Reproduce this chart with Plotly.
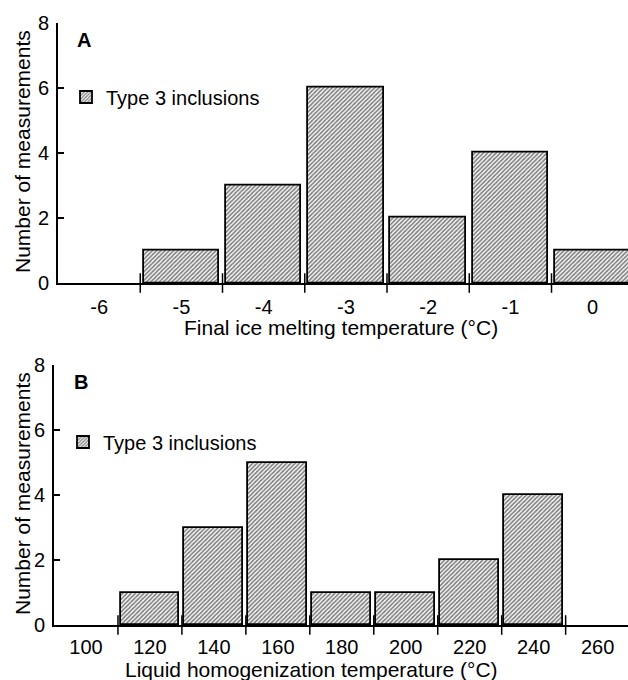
import plotly.graph_objects as go

# ---- Panel A data ----
a_bins = [-5, -4, -3, -2, -1, 0]
a_counts = [1, 3, 6, 2, 4, 1]
a_tickvals = [-6, -5, -4, -3, -2, -1, 0]
a_ticktext = ["-6", "-5", "-4", "-3", "-2", "-1", "0"]
a_edges = [-5.5, -4.5, -3.5, -2.5, -1.5, -0.5]

# ---- Panel B data ----
b_bins = [120, 140, 160, 180, 200, 220, 240]
b_counts = [1, 3, 5, 1, 1, 2, 4]
b_tickvals = [100, 120, 140, 160, 180, 200, 220, 240, 260]
b_ticktext = ["100", "120", "140", "160", "180", "200", "220", "240", "260"]
b_edges = [110, 130, 150, 170, 190, 210, 230, 250]

y_ticks = [0, 2, 4, 6, 8]
legend_name = "Type 3 inclusions"

FONT = "Liberation Sans, Arial, Helvetica, sans-serif"
W, H = 628, 680

pattern = dict(shape="/", size=3, solidity=0.55, fgcolor="black", bgcolor="white")

fig = go.Figure()

fig.add_trace(go.Bar(
    x=a_bins, y=a_counts, width=0.92, name=legend_name,
    marker=dict(color="white", pattern=pattern, line=dict(color="black", width=1.8)),
    xaxis="x", yaxis="y", legend="legend", showlegend=True, hoverinfo="skip",
))
fig.add_trace(go.Scatter(
    x=a_edges, y=[0] * len(a_edges), mode="markers", xaxis="x", yaxis="y",
    marker=dict(symbol="line-ns-open", size=14, color="black", line=dict(color="black", width=1.5)),
    cliponaxis=False, showlegend=False, hoverinfo="skip",
))

fig.add_trace(go.Bar(
    x=b_bins, y=b_counts, width=18.4, name=legend_name,
    marker=dict(color="white", pattern=pattern, line=dict(color="black", width=1.8)),
    xaxis="x2", yaxis="y2", legend="legend2", showlegend=True, hoverinfo="skip",
))
fig.add_trace(go.Scatter(
    x=b_edges, y=[0] * len(b_edges), mode="markers", xaxis="x2", yaxis="y2",
    marker=dict(symbol="line-ns-open", size=14, color="black", line=dict(color="black", width=1.5)),
    cliponaxis=False, showlegend=False, hoverinfo="skip",
))

xcommon = dict(showline=True, linecolor="black", linewidth=2, ticks="", showgrid=False,
               zeroline=False, tickfont=dict(size=20, color="black", family=FONT),
               ticklabelstandoff=5, fixedrange=True, automargin=False)
ycommon = dict(showline=True, linecolor="black", linewidth=2, ticks="inside", ticklen=6,
               tickwidth=1.5, tickcolor="black", showgrid=False, zeroline=False,
               range=[0, 8], tickvals=y_ticks, ticktext=[str(v) for v in y_ticks],
               tickfont=dict(size=20, color="black", family=FONT), ticklabelstandoff=3,
               fixedrange=True, automargin=False)

fig.update_layout(
    width=W, height=H,
    margin=dict(l=0, r=0, t=0, b=0, autoexpand=False),
    paper_bgcolor="white", plot_bgcolor="white",
    font=dict(family=FONT, size=20, color="black"),
    bargap=0,
    xaxis=dict(xcommon, domain=[58 / W, 1], range=[-6.5, 0.43], tickvals=a_tickvals,
               ticktext=a_ticktext, anchor="y"),
    yaxis=dict(ycommon, domain=[1 - 283 / H, 1 - 22.5 / H], anchor="x"),
    xaxis2=dict(xcommon, domain=[54 / W, 1], range=[90, 269.5], tickvals=b_tickvals,
                ticktext=b_ticktext, anchor="y2", ticklabelstandoff=3),
    yaxis2=dict(ycommon, domain=[1 - 625 / H, 1 - 365 / H], anchor="x2"),
    legend=dict(x=66 / W, y=1 - 97 / H, xanchor="left", yanchor="middle",
                bgcolor="rgba(0,0,0,0)", font=dict(size=20, family=FONT, color="black")),
    legend2=dict(x=63 / W, y=1 - 442 / H, xanchor="left", yanchor="middle",
                 bgcolor="rgba(0,0,0,0)", font=dict(size=20, family=FONT, color="black")),
    showlegend=True,
    annotations=[
        dict(text="<b>A</b>", x=75 / W, y=1 - 40 / H, xref="paper", yref="paper",
             xanchor="left", yanchor="middle", showarrow=False, font=dict(size=20, family=FONT)),
        dict(text="<b>B</b>", x=72 / W, y=1 - 382 / H, xref="paper", yref="paper",
             xanchor="left", yanchor="middle", showarrow=False, font=dict(size=20, family=FONT)),
        dict(text="Number of measurements", x=22 / W, y=1 - 152 / H, xref="paper", yref="paper",
             xanchor="center", yanchor="middle", textangle=-90, showarrow=False,
             font=dict(size=21, family=FONT)),
        dict(text="Number of measurements", x=22 / W, y=1 - 494 / H, xref="paper", yref="paper",
             xanchor="center", yanchor="middle", textangle=-90, showarrow=False,
             font=dict(size=21, family=FONT)),
        dict(text="Final ice melting temperature (°C)", x=341 / W, y=1 - 327 / H,
             xref="paper", yref="paper", xanchor="center", yanchor="middle", showarrow=False,
             font=dict(size=21, family=FONT)),
        dict(text="Liquid homogenization temperature (°C)", x=311 / W, y=1 - 669 / H,
             xref="paper", yref="paper", xanchor="center", yanchor="middle", showarrow=False,
             font=dict(size=21, family=FONT)),
    ],
)

fig.write_html("out.html", config={"displayModeBar": False},
               post_script="document.body.style.margin='0';document.body.style.overflow='hidden';")
